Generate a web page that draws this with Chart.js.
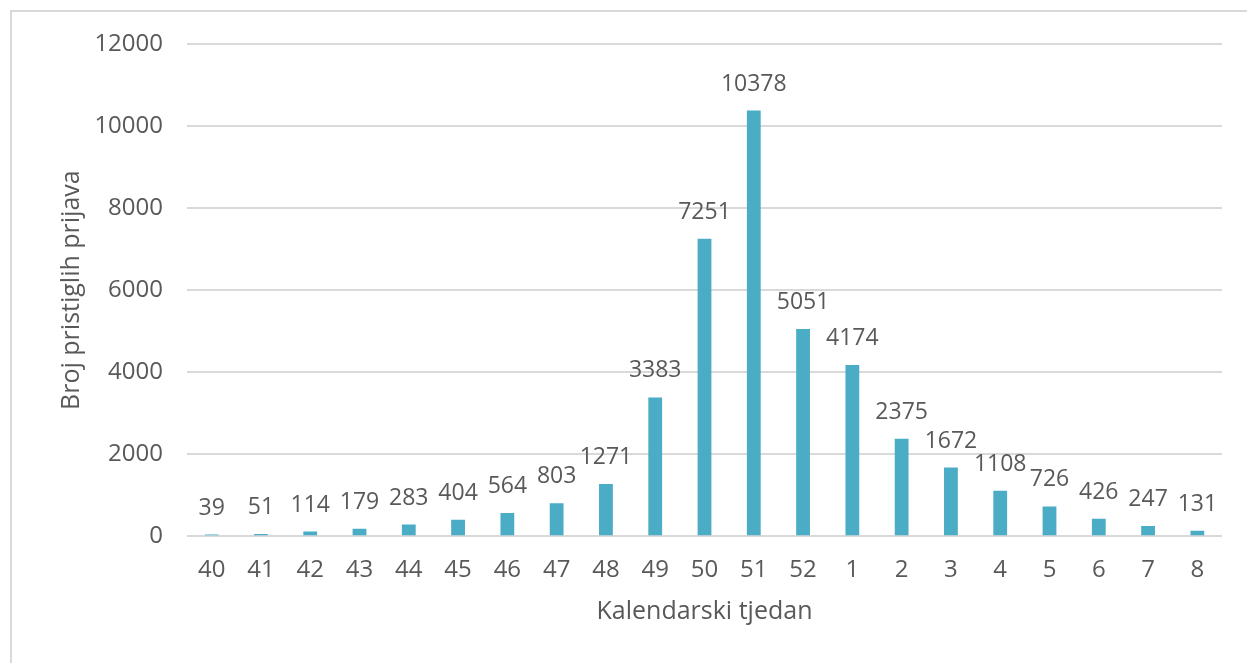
<!DOCTYPE html>
<html>
<head>
<meta charset="utf-8">
<script src="https://cdn.jsdelivr.net/npm/chart.js@4.4.0/dist/chart.umd.min.js"></script>
<style>
    html, body { margin: 0; padding: 0; background: #fff; overflow: hidden; }
    #frame {
        position: absolute; left: 10px; top: 10px;
        width: 1400px; height: 800px;
        border-left: 2px solid #d9d9d9; border-top: 2px solid #d9d9d9;
    }
    #wrap { position: absolute; left: 0; top: 0; width: 1247px; height: 663px; }
</style>
</head>
<body>
<div id="frame"></div>
<div id="wrap"><canvas id="chart"></canvas></div>
<script>
// tjedni i broj prijava
const weeks = ['40', '41', '42', '43', '44', '45', '46', '47', '48', '49', '50', '51', '52', '1', '2', '3', '4', '5', '6', '7', '8'];
const reports = [39, 51, 114, 179, 283, 404, 564, 803, 1271, 3383, 7251, 10378, 5051, 4174, 2375, 1672, 1108, 726, 426, 247, 131];
const yTicks = [0, 2000, 4000, 6000, 8000, 10000, 12000];

const textColor = '#595959';
const fontFamily = '"Open Sans", sans-serif';

// vrijednosti iznad stupaca
const valueLabels = {
    id: 'valueLabels',
    afterDatasetsDraw(chart) {
        const ctx = chart.ctx;
        const meta = chart.getDatasetMeta(0);
        ctx.save();
        ctx.fillStyle = textColor;
        ctx.font = '23px ' + fontFamily;
        ctx.textAlign = 'center';
        ctx.textBaseline = 'alphabetic';
        meta.data.forEach((bar, i) => {
            ctx.fillText(String(reports[i]), bar.x, bar.y - 20);
        });
        ctx.restore();
    }
};

const ctx = document.getElementById('chart').getContext('2d');
new Chart(ctx, {
    type: 'bar',
    data: {
        labels: weeks,
        datasets: [{
            label: 'Broj pristiglih prijava',
            data: reports,
            backgroundColor: '#4bacc6',
            barPercentage: 0.28,
            categoryPercentage: 1
        }]
    },
    options: {
        responsive: true,
        maintainAspectRatio: false,
        animation: false,
        layout: {
            padding: { left: 57, right: 25, top: 44, bottom: 36 }
        },
        scales: {
            y: {
                min: 0,
                max: 12000,
                afterBuildTicks: axis => { axis.ticks = yTicks.map(v => ({ value: v })); },
                afterFit: axis => { axis.width = 130; },
                border: { display: false },
                grid: { color: '#d9d9d9', lineWidth: 2, drawTicks: false },
                ticks: {
                    color: textColor,
                    font: { family: fontFamily, size: 24 },
                    padding: 24,
                    callback: v => String(v)
                },
                title: {
                    display: true,
                    text: 'Broj pristiglih prijava',
                    color: textColor,
                    font: { family: fontFamily, size: 25 },
                    padding: { top: 0, bottom: 6 }
                }
            },
            x: {
                border: { display: false },
                grid: { display: false },
                ticks: { color: textColor, font: { family: fontFamily, size: 24 }, padding: 12, maxRotation: 0, autoSkip: false },
                title: {
                    display: true,
                    text: 'Kalendarski tjedan',
                    color: textColor,
                    font: { family: fontFamily, size: 25 },
                    padding: { top: 0, bottom: 0 }
                }
            }
        },
        plugins: {
            legend: { display: false },
            tooltip: { enabled: false }
        }
    },
    plugins: [valueLabels]
});
</script>
</body>
</html>
